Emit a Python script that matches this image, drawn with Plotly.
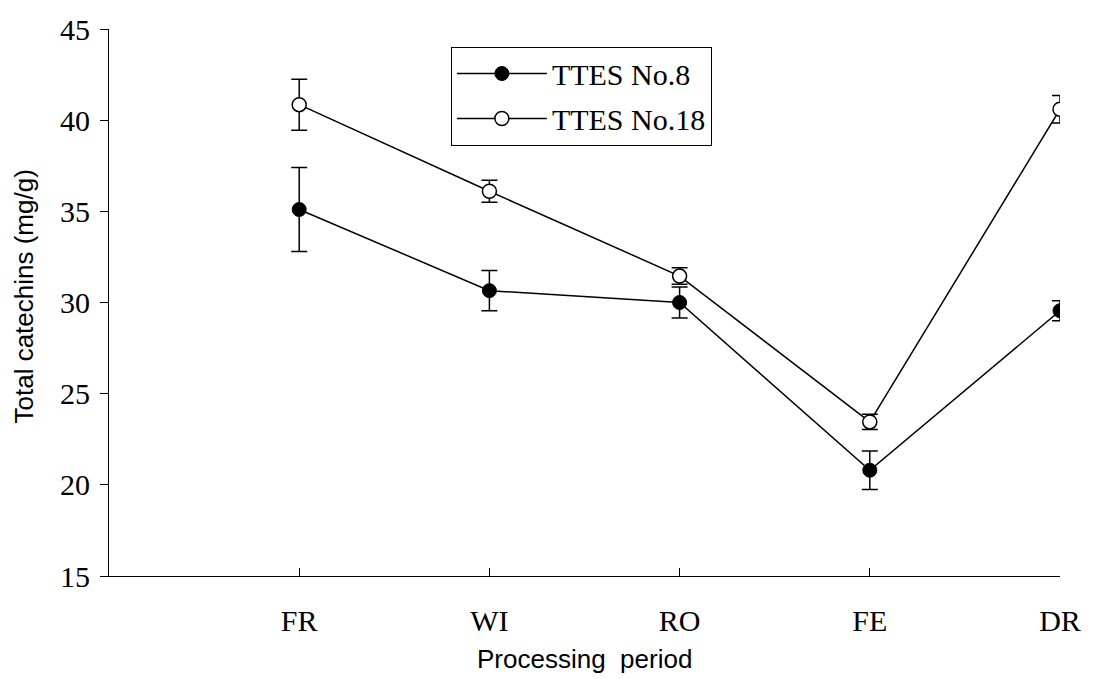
import plotly.graph_objects as go

categories = ["FR", "WI", "RO", "FE", "DR"]
no8_mean = [35.1, 30.65, 30.0, 20.8, 29.55]
no8_err = [2.3, 1.1, 0.85, 1.05, 0.55]
no18_mean = [40.85, 36.1, 31.45, 23.45, 40.6]
no18_err = [1.4, 0.6, 0.45, 0.42, 0.75]
y_ticks = [15, 20, 25, 30, 35, 40, 45]

serif = "Liberation Serif, Times New Roman, serif"
sans = "Liberation Sans, Arial, sans-serif"

fig = go.Figure()
fig.add_trace(go.Scatter(
    x=categories, y=no8_mean, name="TTES No.8", mode="lines+markers",
    legendgroup="a",
    line=dict(color="black", width=1.5),
    marker=dict(symbol="circle", size=14, color="black", line=dict(color="black", width=1)),
    error_y=dict(type="data", array=no8_err, visible=True, color="black", thickness=1.5, width=8),
))
fig.add_trace(go.Scatter(
    x=categories, y=no18_mean, name="TTES No.18", mode="lines+markers",
    legendgroup="b",
    line=dict(color="black", width=1.5),
    marker=dict(symbol="circle", size=14, color="white", line=dict(color="black", width=1.5)),
    error_y=dict(type="data", array=no18_err, visible=True, color="black", thickness=1.5, width=8),
))

fig.update_layout(
    width=1093, height=679,
    margin=dict(l=109, r=27, t=22, b=103),
    paper_bgcolor="white", plot_bgcolor="white",
    showlegend=True,
    legend=dict(
        x=0.3595, y=0.968, xanchor="left", yanchor="top",
        bordercolor="black", borderwidth=1, bgcolor="white",
        font=dict(family=serif, size=30, color="black"),
        traceorder="grouped", tracegroupgap=3,
        itemwidth=90, entrywidth=250,
    ),
    xaxis=dict(
        type="category", range=[-1, 4],
        showline=True, linecolor="black", linewidth=1,
        ticks="inside", ticklen=8, tickcolor="black", tickwidth=1,
        showgrid=False, zeroline=False,
        tickfont=dict(family=serif, size=30, color="black"),
        ticklabelstandoff=18,
    ),
    yaxis=dict(
        range=[15, 45], tickvals=y_ticks,
        showline=True, linecolor="black", linewidth=1,
        ticks="outside", ticklen=8, tickcolor="black", tickwidth=1,
        showgrid=False, zeroline=False,
        tickfont=dict(family=serif, size=30, color="black"),
        ticklabelstandoff=4,
    ),
    annotations=[
        dict(text="Processing&nbsp;&nbsp;period", xref="paper", yref="paper",
             x=0.5, y=-0.152, yanchor="middle", xanchor="center", showarrow=False,
             font=dict(family=sans, size=26, color="black")),
        dict(text="Total catechins (mg/g)", xref="paper", yref="paper",
             x=0, y=0.5, xshift=-86, yshift=6, textangle=-90, xanchor="center", yanchor="middle",
             showarrow=False, font=dict(family=sans, size=26, color="black")),
    ],
)

# remove the browser's default 8px body margin so the figure fills the window exactly
fig.write_html("out.html", config={"displayModeBar": False},
               post_script="document.body.style.margin='0';")
